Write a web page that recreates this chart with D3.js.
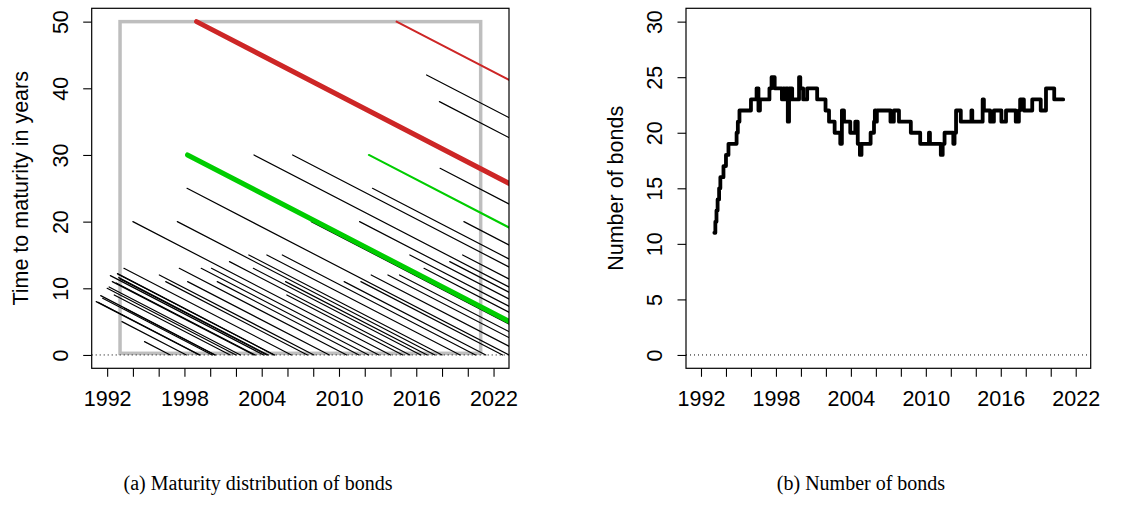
<!DOCTYPE html>
<html>
<head>
<meta charset="utf-8">
<script src="https://cdn.jsdelivr.net/npm/d3@7"></script>
<style>
  html, body { margin: 0; padding: 0; background: #fff; }
  svg { display: block; }
  .sans { font-family: "Liberation Sans", Arial, Helvetica, sans-serif; }
  .serif { font-family: "Liberation Serif", "Times New Roman", serif; }
</style>
</head>
<body>
<svg id="fig" width="1127" height="516"></svg>
<script>
// Bonds outstanding: issue date (decimal year) and time to maturity at issue (years)
const bondIssue = [
  1991.15, 1991.3, 1991.5, 1991.65, 1992.0, 1992.15, 1992.25, 1992.4, 1992.55, 1992.7,
  1992.8, 1992.85, 1992.9, 1993.0, 1993.15, 1993.3, 1993.35, 1994.0, 1994.9, 1996.05,
  1996.55, 1997.45, 1997.6, 1998.2, 1998.25, 1999.3, 2000.1, 2000.55, 2001.5, 2003.0,
  2003.35, 2003.4, 2004.4, 2005.6, 2005.85, 2005.95, 2006.4, 2007.85, 2010.4, 2011.6,
  2011.7, 2012.5, 2012.6, 2013.8, 2014.7, 2015.5, 2016.6, 2016.8, 2017.8, 2017.85,
  2018.6, 2019.6, 2019.7
];
const bondTerm = [
  8.0, 7.9, 8.9, 8.5, 10.0, 10.2, 11.9, 11.0, 9.0, 10.8,
  12.2, 12.1, 11.6, 11.4, 5.0, 13.0, 7.0, 20.0, 2.0, 12.0,
  11.0, 20.0, 13.0, 25.0, 11.0, 13.0, 13.0, 11.0, 14.0, 15.0,
  13.0, 30.0, 15.0, 15.0, 11.0, 9.0, 30.0, 20.0, 11.0, 20.0,
  11.0, 12.0, 25.0, 12.0, 12.0, 15.0, 13.0, 42.0, 38.0, 28.0,
  14.0, 15.0, 20.0
];
// 50-year bonds (first and second issue)
const issue50 = [1998.94, 2014.47];
const term50 = [50, 50];
// 30-year bonds (first and second issue)
const issue30 = [1998.24, 2012.32];
const term30 = [30, 30];
// Sample window: dates and maturity band
const windowDates = [1993, 2021];
const windowMaturity = [0.25, 50];

// Number of bonds in the sample: change dates and counts from that date on
const countDate = [
  1993.07, 1993.15, 1993.24, 1993.33, 1993.45, 1993.55, 1993.8, 1994.0, 1994.2, 1994.85,
  1994.95, 1995.08, 1996.0, 1996.45, 1996.6, 1996.72, 1997.48, 1997.65, 1997.9, 1998.48,
  1998.58, 1998.68, 1998.78, 1998.95, 1999.05, 1999.3, 1999.85, 1999.95, 2000.18, 2000.5,
  2001.3, 2001.97, 2002.25, 2002.7, 2003.15, 2003.28, 2003.45, 2003.95, 2004.35, 2004.55,
  2004.72, 2004.85, 2005.58, 2005.85, 2005.92, 2005.99, 2006.08, 2007.17, 2007.44, 2007.85,
  2008.8, 2009.55, 2010.25, 2010.33, 2011.2, 2011.35, 2011.5, 2012.2, 2012.3, 2012.42,
  2012.8, 2013.65, 2013.72, 2014.55, 2014.65, 2015.15, 2015.45, 2016.05, 2016.42, 2017.2,
  2017.45, 2017.55, 2017.85, 2018.52, 2019.2, 2019.62, 2020.28, 2021.0
];
const countValue = [
  11, 12, 13, 14, 15, 16, 17, 18, 19, 20,
  21, 22, 23, 24, 22, 23, 24, 25, 24, 23,
  24, 23, 24, 21, 24, 23, 25, 24, 23, 24,
  23, 22, 21, 20, 19, 22, 21, 20, 21, 19,
  18, 19, 20, 21, 22, 21, 22, 21, 22, 21,
  20, 19, 20, 19, 18, 19, 20, 19, 20, 22,
  21, 22, 21, 23, 22, 21, 22, 21, 22, 21,
  22, 23, 22, 23, 22, 24, 23, 23
];

// Axis ticks and labels
const yearTicks = [1992, 1994, 1996, 1998, 2000, 2002, 2004, 2006, 2008, 2010, 2012, 2014, 2016, 2018, 2020, 2022];
const yearLabels = [1992, 1998, 2004, 2010, 2016, 2022];
const maturityTicks = [0, 10, 20, 30, 40, 50];
const countTicks = [0, 5, 10, 15, 20, 25, 30];

const svg = d3.select("#fig");
const FONT = 21.5;
const TICK = 8.5;

// Builds a framed panel with R-style axes
function panel(id, box, xDomain, yDomain, yTicks, yTitle) {
  const x = d3.scaleLinear().domain(xDomain).range([box.left, box.right]);
  const y = d3.scaleLinear().domain(yDomain).range([box.bottom, box.top]);
  const g = svg.append("g").attr("id", id);

  g.append("clipPath").attr("id", id + "-clip")
    .append("rect")
    .attr("x", box.left).attr("y", box.top)
    .attr("width", box.right - box.left).attr("height", box.bottom - box.top);

  const plot = g.append("g").attr("clip-path", `url(#${id}-clip)`);

  // bottom axis
  const xa = g.append("g").attr("class", "sans")
    .attr("transform", `translate(0,${box.bottom})`)
    .call(d3.axisBottom(x).tickValues(yearTicks).tickSize(TICK)
      .tickFormat(d => yearLabels.includes(d) ? String(d) : ""));
  xa.select(".domain").remove();
  xa.selectAll(".tick line").attr("stroke", "#000").attr("stroke-width", 1.1);
  xa.selectAll(".tick text")
    .attr("y", 37.7).attr("dy", 0)
    .attr("fill", "#000").attr("font-size", FONT)
    .attr("font-family", "Liberation Sans, Arial, sans-serif");

  // left axis, labels turned to read upwards
  const ya = g.append("g").attr("class", "sans")
    .attr("transform", `translate(${box.left},0)`)
    .call(d3.axisLeft(y).tickValues(yTicks).tickSize(TICK).tickFormat(d3.format("d")));
  ya.select(".domain").remove();
  ya.selectAll(".tick line").attr("stroke", "#000").attr("stroke-width", 1.1);
  ya.selectAll(".tick text")
    .attr("transform", "rotate(-90)")
    .attr("x", 0).attr("y", -24).attr("dy", 0)
    .attr("text-anchor", "middle")
    .attr("fill", "#000").attr("font-size", FONT)
    .attr("font-family", "Liberation Sans, Arial, sans-serif");

  // axis title
  g.append("text").attr("class", "sans")
    .attr("transform", `translate(${box.left - 63.5},${(box.top + box.bottom) / 2}) rotate(-90)`)
    .attr("text-anchor", "middle")
    .attr("font-size", FONT)
    .attr("fill", "#000")
    .text(yTitle);

  return { x, y, g, plot };
}

// ---------- (a) maturity distribution ----------
const A = panel("pa", { left: 91.7, right: 509, top: 8.3, bottom: 368.3 },
  [1990.8, 2023.2], [-2, 52], maturityTicks, "Time to maturity in years");

// sample window
A.plot.append("rect")
  .attr("x", A.x(windowDates[0]))
  .attr("y", A.y(windowMaturity[1]))
  .attr("width", A.x(windowDates[1]) - A.x(windowDates[0]))
  .attr("height", A.y(windowMaturity[0]) - A.y(windowMaturity[1]))
  .attr("fill", "none").attr("stroke", "#BEBEBE").attr("stroke-width", 3.5);

// zero line
A.plot.append("line")
  .attr("x1", A.x(1990.8)).attr("x2", A.x(2023.2))
  .attr("y1", A.y(0)).attr("y2", A.y(0))
  .attr("stroke", "#000").attr("stroke-width", 1).attr("stroke-dasharray", "1,3");

// each bond runs down from its issue maturity to zero at redemption
function bondLine(sel, issues, terms, colorOf, widthOf) {
  sel.selectAll(null)
    .data(issues.map((d, i) => ({ issue: d, term: terms[i], i })))
    .enter().append("line")
    .attr("x1", d => A.x(d.issue)).attr("y1", d => A.y(d.term))
    .attr("x2", d => A.x(d.issue + d.term)).attr("y2", d => A.y(0))
    .attr("stroke", colorOf).attr("stroke-width", widthOf)
    .attr("stroke-linecap", "round");
}
bondLine(A.plot, bondIssue, bondTerm, () => "#000", () => 1.2);
bondLine(A.plot, issue30, term30, () => "#00CD00", d => d.i === 0 ? 5 : 2);
bondLine(A.plot, issue50, term50, () => "#CD2626", d => d.i === 0 ? 5 : 2);

A.g.append("rect")
  .attr("x", 91.7).attr("y", 8.3).attr("width", 509 - 91.7).attr("height", 360)
  .attr("fill", "none").attr("stroke", "#000").attr("stroke-width", 1.2);

// ---------- (b) number of bonds ----------
const B = panel("pb", { left: 686, right: 1090.7, top: 8.3, bottom: 368.3 },
  [1990.8, 2023.2], [-1.2, 31.2], countTicks, "Number of bonds");

B.plot.append("line")
  .attr("x1", B.x(1990.8)).attr("x2", B.x(2023.2))
  .attr("y1", B.y(0)).attr("y2", B.y(0))
  .attr("stroke", "#000").attr("stroke-width", 1).attr("stroke-dasharray", "1,3");

const countLine = d3.line()
  .x(d => B.x(d[0])).y(d => B.y(d[1]))
  .curve(d3.curveStepAfter);
B.plot.append("path")
  .datum(countDate.map((d, i) => [d, countValue[i]]))
  .attr("d", countLine)
  .attr("fill", "none").attr("stroke", "#000").attr("stroke-width", 3.8)
  .attr("stroke-linejoin", "round").attr("stroke-linecap", "round");

B.g.append("rect")
  .attr("x", 686).attr("y", 8.3).attr("width", 1090.7 - 686).attr("height", 360)
  .attr("fill", "none").attr("stroke", "#000").attr("stroke-width", 1.2);

// ---------- captions ----------
svg.append("text").attr("class", "serif")
  .attr("x", 258).attr("y", 490).attr("text-anchor", "middle")
  .attr("font-size", 20).attr("fill", "#000")
  .text("(a) Maturity distribution of bonds");
svg.append("text").attr("class", "serif")
  .attr("x", 861).attr("y", 490).attr("text-anchor", "middle")
  .attr("font-size", 20).attr("fill", "#000")
  .text("(b) Number of bonds");
</script>
</body>
</html>
